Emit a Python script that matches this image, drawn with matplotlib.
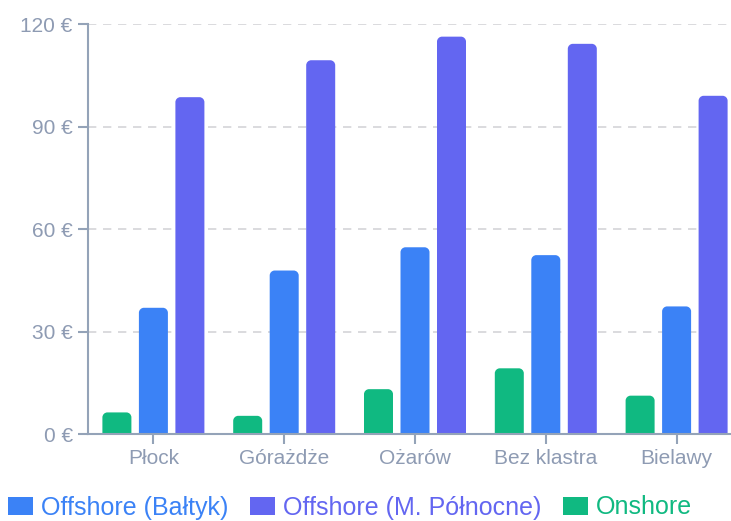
import matplotlib
matplotlib.use('Agg')
import matplotlib.pyplot as plt
from matplotlib.patches import PathPatch, Patch
from matplotlib.path import Path
import numpy as np

categories = ["Płock", "Górażdże", "Ożarów", "Bez klastra", "Bielawy"]
onshore = [6.4, 5.4, 13.2, 19.3, 11.3]
offshore_baltyk = [37.0, 47.9, 54.7, 52.4, 37.4]
offshore_mp = [98.6, 109.4, 116.3, 114.2, 99.0]
yticks = [0, 30, 60, 90, 120]
ytick_labels = ["0 €", "30 €", "60 €", "90 €", "120 €"]

series = [
    ("Onshore", onshore, "#10b981"),
    ("Offshore (Bałtyk)", offshore_baltyk, "#3b82f6"),
    ("Offshore (M. Północne)", offshore_mp, "#6366f1"),
]
legend_order = [1, 2, 0]

plt.rcParams['font.family'] = ['Liberation Sans', 'DejaVu Sans']
axis_col = '#94a3b8'
label_col = '#8e9bb3'

W, H = 731, 521
fig = plt.figure(figsize=(W / 100, H / 100), dpi=100)
left, right, bottom, top = 88 / W, 1.0, 1 - 434.3 / H, 1 - 24 / H
ax = fig.add_axes([left, bottom, right - left, top - bottom])

px_per_cat = 130.8
xmax = (W - 88) / px_per_cat - 0.5
ax.set_xlim(-0.5, xmax)
ax.set_ylim(0, 120)

width = 29 / px_per_cat
step = 36.5 / px_per_cat
offsets = [-step, 0, step]
x = np.arange(len(categories))

ppu_y = (434.3 - 24) / 120
rad_px = 5
rx = rad_px / px_per_cat
ry = rad_px / ppu_y
K = 0.5523


def rounded_top(x0, y0, w, h):
    r_y = min(ry, h / 2)
    x1, y1 = x0 + w, y0 + h
    verts = [
        (x0, y0), (x0, y1 - r_y),
        (x0, y1 - r_y + K * r_y), (x0 + rx - K * rx, y1), (x0 + rx, y1),
        (x1 - rx, y1),
        (x1 - rx + K * rx, y1), (x1, y1 - r_y + K * r_y), (x1, y1 - r_y),
        (x1, y0), (x0, y0),
    ]
    codes = [Path.MOVETO, Path.LINETO,
             Path.CURVE4, Path.CURVE4, Path.CURVE4,
             Path.LINETO,
             Path.CURVE4, Path.CURVE4, Path.CURVE4,
             Path.LINETO, Path.CLOSEPOLY]
    return Path(verts, codes)


for (name, vals, col), off in zip(series, offsets):
    bars = ax.bar(x + off, vals, width, color=col, label=name, zorder=3)
    for r in bars:
        r.set_visible(False)
        p = PathPatch(rounded_top(r.get_x(), r.get_y(), r.get_width(), r.get_height()),
                      facecolor=col, edgecolor='none', zorder=3)
        ax.add_patch(p)

ax.set_yticks(yticks)
ax.set_yticklabels(ytick_labels)
ax.set_xticks(x)
ax.set_xticklabels(categories)

for y in yticks[1:]:
    ax.axhline(y, color='#d4d4d8', lw=1.2, ls=(0, (5, 4)), zorder=1)

for s in ['top', 'right']:
    ax.spines[s].set_visible(False)
for s in ['left', 'bottom']:
    ax.spines[s].set_color(axis_col)
    ax.spines[s].set_linewidth(1.5)
    ax.spines[s].set_zorder(4)

ax.tick_params(axis='both', colors=axis_col, length=7.5, width=1.5,
               labelsize=15, labelcolor=label_col)
ax.tick_params(axis='y', pad=3.5)
ax.tick_params(axis='x', pad=3)

handles = [Patch(facecolor=series[i][2], edgecolor='none') for i in legend_order]
labels = [series[i][0] for i in legend_order]
leg = fig.legend(handles, labels, loc='center', bbox_to_anchor=(350 / W, 1 - 507.5 / H),
                 ncol=3, frameon=False, fontsize=18, handlelength=1.0, handleheight=0.75,
                 handletextpad=0.32, columnspacing=0.88, borderaxespad=0, borderpad=0)
for t, i in zip(leg.get_texts(), legend_order):
    t.set_color(series[i][2])

fig.savefig('out.png', dpi=100)
